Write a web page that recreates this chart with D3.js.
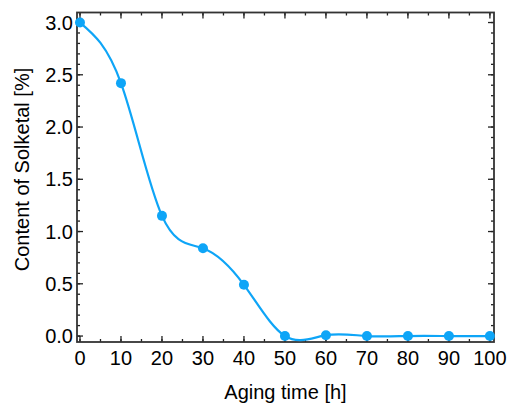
<!DOCTYPE html>
<html>
<head>
<meta charset="utf-8">
<script src="https://cdn.jsdelivr.net/npm/d3@7"></script>
<style>
body { margin: 0; background: #fff; }
text { font-family: "Liberation Sans", Arial, sans-serif; fill: #000; }
</style>
</head>
<body>
<script>
// aging data
var agingTime = [0, 10, 20, 30, 40, 50, 60, 70, 80, 90, 100];
var solketal = [3.0, 2.42, 1.15, 0.84, 0.49, 0.0, 0.008, 0.0, 0.0, 0.0, 0.0];
var xTicks = [0, 10, 20, 30, 40, 50, 60, 70, 80, 90, 100];
var yTicks = [0.0, 0.5, 1.0, 1.5, 2.0, 2.5, 3.0];

var W = 510, H = 405;
var margin = { top: 12.5, right: 16, bottom: 63, left: 77 };
var width = W - margin.left - margin.right, height = H - margin.top - margin.bottom;
var blue = "#0ea5f7";

var svg = d3.select("body").append("svg")
	.attr("width", W)
	.attr("height", H)
	.append("g")
	.attr("transform", "translate(" + margin.left + "," + margin.top + ")");

var x = d3.scaleLinear().domain([-0.73, 101]).range([0, width]);
var y = d3.scaleLinear().domain([-0.057, 3.096]).range([height, 0]);

var xMinor = d3.range(0, 101, 5);
var yMinor = d3.range(0, 31, 1).map(d => d / 10);

// tick marks, all pointing inward
function ticks(g, vals, len, side) {
	g.selectAll(null).data(vals).enter().append("line")
		.attr("x1", d => side == "b" || side == "t" ? x(d) : (side == "l" ? 0 : width))
		.attr("x2", d => side == "b" || side == "t" ? x(d) : (side == "l" ? len : width - len))
		.attr("y1", d => side == "l" || side == "r" ? y(d) : (side == "b" ? height : 0))
		.attr("y2", d => side == "l" || side == "r" ? y(d) : (side == "b" ? height - len : len))
		.attr("stroke", "#222")
		.attr("stroke-width", 1.3);
}
var tg = svg.append("g");
["b", "t"].forEach(s => { ticks(tg, xTicks, 6, s); ticks(tg, xMinor, 3, s); });
["l", "r"].forEach(s => { ticks(tg, yTicks, 6, s); ticks(tg, yMinor, 3, s); });

svg.append("rect")
	.attr("width", width)
	.attr("height", height)
	.attr("fill", "none")
	.attr("stroke", "#333")
	.attr("stroke-width", 1.8);

// tick labels
svg.append("g").selectAll("text")
	.data(xTicks)
	.enter().append("text")
	.attr("x", d => x(d))
	.attr("y", height + 23)
	.attr("text-anchor", "middle")
	.style("font-size", "20px")
	.text(d => d);

svg.append("g").selectAll("text")
	.data(yTicks)
	.enter().append("text")
	.attr("x", -4)
	.attr("y", d => y(d))
	.attr("dy", "0.36em")
	.attr("text-anchor", "end")
	.style("font-size", "20px")
	.text(d => d3.format(".1f")(d));

svg.append("text")
	.attr("x", width / 2)
	.attr("y", height + 57)
	.attr("text-anchor", "middle")
	.style("font-size", "20px")
	.text("Aging time [h]");

svg.append("text")
	.attr("transform", "translate(" + (-48) + "," + (157) + ") rotate(-90)")
	.attr("text-anchor", "middle")
	.style("font-size", "20px")
	.text("Content of Solketal [%]");

var pts = agingTime.map((t, i) => ({ t: t, v: solketal[i] }));

var line = d3.line()
	.x(d => x(d.t))
	.y(d => y(d.v))
	.curve(d3.curveNatural);

svg.append("path")
	.datum(pts)
	.attr("d", line)
	.attr("fill", "none")
	.attr("stroke", blue)
	.attr("stroke-width", 2.2);

svg.append("g").selectAll("circle")
	.data(pts)
	.enter().append("circle")
	.attr("cx", d => x(d.t))
	.attr("cy", d => y(d.v))
	.attr("r", 5)
	.attr("fill", blue);
</script>
</body>
</html>
